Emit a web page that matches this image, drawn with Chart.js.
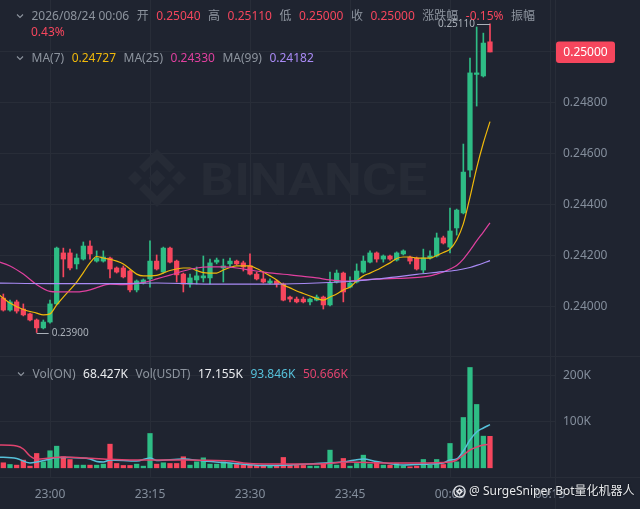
<!DOCTYPE html>
<html><head><meta charset="utf-8">
<script src="https://cdn.jsdelivr.net/npm/chart.js@4.4.1/dist/chart.umd.min.js"></script>
<style>
html,body{margin:0;padding:0;background:#1f2430;}
#wrap{position:relative;width:640px;height:509px;overflow:hidden;background:#1f2430;font-family:"Noto Sans","Noto Sans CJK SC",sans-serif;}
canvas{position:absolute;left:0;display:block;}
.row{position:absolute;left:16px;height:16px;line-height:16px;font-size:12px;display:flex;align-items:center;gap:7.5px;white-space:nowrap;color:#8d949e;}
.row svg{display:block;}
#wm{position:absolute;left:453px;top:483px;height:16px;line-height:16px;font-size:12px;color:#e6e8eb;display:flex;align-items:center;gap:3px;white-space:nowrap;text-shadow:0 0 2px rgba(0,0,0,0.6);}
</style></head><body><div id="wrap">
<canvas id="cP" width="640" height="357" style="top:0"></canvas>
<canvas id="cV" width="640" height="152" style="top:357px"></canvas>
<div class="row" id="row1" style="top:8px"></div>
<div class="row" id="row2" style="top:24px;left:31px"></div>
<div class="row" id="row3" style="top:50px"></div>
<div class="row" id="row4" style="top:366px;left:17px"></div>
<div id="wm"><svg width="13" height="13" viewBox="0 0 13 13"><circle cx="6.5" cy="6.5" r="5.6" fill="none" stroke="#e6e8eb" stroke-width="1.3"/><path d="M6.5 3 L10 6.5 L6.5 10 L3 6.5 Z" fill="#e6e8eb"/><path d="M6.5 5.3 L7.7 6.5 L6.5 7.7 L5.3 6.5 Z" fill="#1f2430"/></svg><span>@ SurgeSniper Bot量化机器人</span></div>
</div>
<script>
// ---------- data (1-minute candles, minute offset from 23:00) ----------
const firstMinute = -7; // first candle 22:53
const openP  = [0.24035,0.23988,0.24020,0.23992,0.23973,0.23949,0.23918,0.23941,0.24012,0.24212,0.24212,0.24169,0.24188,0.24239,0.24180,0.24180,0.24192,0.24153,0.24153,0.24141,0.24067,0.24094,0.24110,0.24180,0.24137,0.24231,0.24180,0.24129,0.24090,0.24106,0.24114,0.24114,0.24176,0.24153,0.24169,0.24180,0.24173,0.24161,0.24129,0.24110,0.24094,0.24102,0.24090,0.24039,0.24031,0.24031,0.24020,0.24027,0.24039,0.24008,0.24098,0.24133,0.24078,0.24098,0.24137,0.24176,0.24212,0.24188,0.24200,0.24184,0.24208,0.24196,0.24192,0.24145,0.24192,0.24200,0.24271,0.24235,0.24310,0.24369,0.24537,0.24912,0.24906,0.25040];
const highP  = [0.24051,0.24027,0.24027,0.24012,0.23976,0.23953,0.23949,0.24027,0.24235,0.24231,0.24227,0.24208,0.24255,0.24259,0.24220,0.24220,0.24196,0.24157,0.24161,0.24145,0.24106,0.24110,0.24259,0.24204,0.24235,0.24235,0.24184,0.24133,0.24129,0.24157,0.24200,0.24188,0.24192,0.24188,0.24192,0.24184,0.24180,0.24208,0.24137,0.24137,0.24110,0.24106,0.24094,0.24043,0.24039,0.24039,0.24035,0.24047,0.24043,0.24137,0.24145,0.24137,0.24118,0.24169,0.24200,0.24220,0.24216,0.24204,0.24204,0.24216,0.24224,0.24200,0.24196,0.24227,0.24220,0.24290,0.24278,0.24388,0.24384,0.24639,0.24976,0.25098,0.25074,0.25110];
const lowP   = [0.23984,0.23984,0.23976,0.23965,0.23945,0.23900,0.23914,0.23937,0.24008,0.24118,0.24145,0.24149,0.24184,0.24188,0.24176,0.24176,0.24114,0.24133,0.24114,0.24059,0.24059,0.24090,0.24078,0.24145,0.24133,0.24173,0.24098,0.24059,0.24078,0.24090,0.24098,0.24090,0.24169,0.24098,0.24157,0.24165,0.24141,0.24126,0.24106,0.24094,0.24090,0.24078,0.24024,0.24020,0.24016,0.24016,0.24008,0.24024,0.23992,0.24004,0.24094,0.24020,0.24075,0.24094,0.24133,0.24173,0.24176,0.24176,0.24184,0.24180,0.24204,0.24169,0.24145,0.24133,0.24188,0.24196,0.24247,0.24212,0.24282,0.24365,0.24510,0.24788,0.24902,0.25000];
const closeP = [0.23988,0.24020,0.23984,0.23969,0.23949,0.23918,0.23941,0.24012,0.24231,0.24188,0.24153,0.24192,0.24239,0.24208,0.24192,0.24196,0.24149,0.24137,0.24118,0.24067,0.24102,0.24106,0.24180,0.24149,0.24231,0.24176,0.24126,0.24090,0.24114,0.24122,0.24122,0.24173,0.24184,0.24161,0.24180,0.24169,0.24157,0.24129,0.24110,0.24098,0.24102,0.24090,0.24027,0.24031,0.24020,0.24020,0.24031,0.24039,0.24008,0.24094,0.24133,0.24059,0.24094,0.24141,0.24180,0.24212,0.24188,0.24200,0.24188,0.24212,0.24220,0.24180,0.24149,0.24192,0.24200,0.24271,0.24251,0.24298,0.24380,0.24529,0.24918,0.24918,0.25035,0.25000];
const volK   = [10.9,7.2,5.8,16.7,3.6,31.2,13.0,37.0,47.0,24.0,18.0,5.8,5.8,5.8,5.8,8.0,51.4,9.4,5.1,5.1,8.0,3.6,74.6,8.0,10.9,9.4,9.4,24.0,5.8,13.0,21.7,8.0,8.0,13.0,9.4,7.2,5.8,5.8,5.1,5.8,3.6,5.1,22.5,5.1,5.1,5.1,3.6,3.6,9.4,38.4,5.8,20.3,3.6,9.4,27.5,8.0,13.0,5.8,5.8,9.4,4.3,2.2,3.6,18.1,5.8,18.1,7.2,52.9,13.0,109.4,218.1,137.7,68.8,68.427];

// moving-average lines (minute offset, value)
const ma7Min = [-8,-6,-4,-2,-1,0,1,2,4,5,6,7,8,10,11,12,13,14,16,17,18,20,21,22,23,25,26,27,28,30,31,32,33,34,35,36,37,38,39,40,41,42,43,44,45,46,47,48,49,50,51,52,53,54,55,56,57,58,59,60,61,62,63,64,65,66];
const ma7    = [0.24055,0.24016,0.23990,0.23976,0.23969,0.23973,0.24008,0.24039,0.24098,0.24135,0.24173,0.24198,0.24192,0.24180,0.24169,0.24149,0.24129,0.24122,0.24124,0.24133,0.24143,0.24153,0.24153,0.24143,0.24135,0.24133,0.24145,0.24155,0.24161,0.24161,0.24151,0.24137,0.24122,0.24106,0.24086,0.24075,0.24063,0.24053,0.24043,0.24033,0.24027,0.24039,0.24051,0.24067,0.24078,0.24102,0.24122,0.24133,0.24145,0.24159,0.24173,0.24190,0.24196,0.24196,0.24192,0.24192,0.24192,0.24202,0.24214,0.24227,0.24263,0.24326,0.24431,0.24545,0.24643,0.24727];
const ma25Min = [-8,-6,-4,-2,0,1,4,6,7,9,11,13,15,16,18,20,22,24,26,28,30,32,34,36,38,40,42,44,46,48,50,52,54,56,57,58,59,60,61,62,63,64,65,66];
const ma25    = [0.24180,0.24161,0.24129,0.24088,0.24061,0.24059,0.24059,0.24067,0.24076,0.24090,0.24088,0.24092,0.24102,0.24110,0.24125,0.24141,0.24153,0.24157,0.24157,0.24153,0.24145,0.24137,0.24131,0.24126,0.24120,0.24114,0.24106,0.24102,0.24104,0.24108,0.24110,0.24112,0.24114,0.24118,0.24122,0.24129,0.24137,0.24149,0.24163,0.24188,0.24222,0.24259,0.24294,0.24330];
const ma99Min = [-8,0,10,16,25,34,40,46,49,52,55,58,61,63,64,66];
const ma99    = [0.24094,0.24092,0.24092,0.24094,0.24090,0.24090,0.24094,0.24102,0.24110,0.24118,0.24128,0.24136,0.24144,0.24155,0.24163,0.24182];
const volMaAMin = [-8,-5,-3,-2,0,1,3,6,7,8,9,13,15,16,20,23,27,32,36,40,44,47,49,53,57,59,60,61,62,63,64,65,66];
const volMaA    = [23.5,20.2,10.4,12.6,19.1,22.4,22.4,19.1,13.7,12.6,17.0,14.8,21.3,15.9,19.1,14.8,10.4,5.0,6.1,9.3,12.6,19.1,13.7,6.1,8.3,10.4,17.0,19.1,36.5,60.4,77.8,86.5,93.846];
const volMaBMin = [-8,-5,-4,-3,-2,0,2,5,8,12,20,27,29,32,40,45,50,55,60,61,62,63,64,65,66];
const volMaB    = [49.6,47.4,40.9,25.7,19.1,21.3,23.5,21.3,19.1,17.0,17.0,14.8,10.4,8.3,8.3,12.6,10.4,10.4,12.6,17.0,27.8,38.7,45.2,49.6,50.666];

const priceTicks = [0.240,0.242,0.244,0.246,0.248,0.250];
const volTicks = [100,200];
const tickMinutes = [0,15,30,45,60,75];
const tickLabels = ['23:00','23:15','23:30','23:45','00:00','00:15'];
const headerDate = '2026/08/24 00:06';
const changeText = '-0.15%';
const amplitudeText = '0.43%';
const volUsdtText = '17.155K';

// ---------- styles ----------
const GREEN='#2ebd85', RED='#f6465d', GRID='#282d38', TXT='#848e9c';
const MA7C='#f0b90b', MA25C='#e0409f', MA99C='#a98af5', VOLAC='#56c1da', VOLBC='#e0436e';
const FONT='"Noto Sans","Noto Sans CJK SC",sans-serif';
const X_MIN=-7.5, X_MAX=75.75;

const candleX = openP.map((_,i)=>firstMinute+i);
const candleColor = openP.map((o,i)=> closeP[i]>=o ? GREEN : RED);
const pts = (xs, ys) => xs.map((x,i)=>({x, y:ys[i]}));
const last = openP.length-1;

// ---------- header texts ----------
const chev = '<svg width="8" height="16" viewBox="0 0 8 16"><polyline points="1,6.5 4,9.5 7,6.5" fill="none" stroke="#8d949e" stroke-width="1.1"/></svg>';
function span(t,c){return '<span'+(c?' style="color:'+c+'"':'')+'>'+t+'</span>';}
document.getElementById('row1').innerHTML = chev + span(headerDate) + span('开') + span(openP[last].toFixed(5),RED) +
  span('高') + span(highP[last].toFixed(5),RED) + span('低') + span(lowP[last].toFixed(5),RED) +
  span('收') + span(closeP[last].toFixed(5),RED) + span('涨跌幅') + span(changeText,RED) + span('振幅');
document.getElementById('row2').innerHTML = span(amplitudeText,RED);
document.getElementById('row3').innerHTML = chev + span('MA(7)') + span(ma7[ma7.length-1].toFixed(5),MA7C) +
  span('MA(25)') + span(ma25[ma25.length-1].toFixed(5),MA25C) + span('MA(99)') + span(ma99[ma99.length-1].toFixed(5),MA99C);
document.getElementById('row4').innerHTML = chev + span('Vol(ON)') + span(volK[last].toFixed(3)+'K','#eaecef') +
  span('Vol(USDT)') + span(volUsdtText,'#eaecef') + span(volMaA[volMaA.length-1].toFixed(3)+'K',VOLAC) + span(volMaB[volMaB.length-1].toFixed(3)+'K',VOLBC);

// ---------- plugins ----------
const priceDecor = {
  id:'priceDecor',
  beforeDatasetsDraw(chart){
    const ctx = chart.ctx;
    ctx.save();
    ctx.fillStyle = '#262b36';
    const cx=157, cy=178;
    const dia=(x,y,h)=>{ctx.beginPath();ctx.moveTo(x,y-h);ctx.lineTo(x+h,y);ctx.lineTo(x,y+h);ctx.lineTo(x-h,y);ctx.closePath();ctx.fill();};
    dia(cx,cy,8.5); dia(cx-22,cy,7); dia(cx+22,cy,7);
    ctx.beginPath();ctx.moveTo(cx,cy-29);ctx.lineTo(cx+18,cy-11);ctx.lineTo(cx+12.5,cy-5.5);ctx.lineTo(cx,cy-18);ctx.lineTo(cx-12.5,cy-5.5);ctx.lineTo(cx-18,cy-11);ctx.closePath();ctx.fill();
    ctx.beginPath();ctx.moveTo(cx,cy+29);ctx.lineTo(cx+18,cy+11);ctx.lineTo(cx+12.5,cy+5.5);ctx.lineTo(cx,cy+18);ctx.lineTo(cx-12.5,cy+5.5);ctx.lineTo(cx-18,cy+11);ctx.closePath();ctx.fill();
    ctx.font = '700 45px Roboto';
    ctx.textBaseline='alphabetic';
    const w = ctx.measureText('BINANCE').width;
    ctx.translate(200,195); ctx.scale(227/w,1); ctx.fillText('BINANCE',0,0);
    ctx.restore();
  },
  afterDraw(chart){
    const ctx = chart.ctx, xs = chart.scales.x, ys = chart.scales.y;
    ctx.save();
    // pane separator and axis border
    ctx.fillStyle = GRID;
    ctx.fillRect(0, chart.height-1, chart.width, 1);
    ctx.fillRect(Math.round(chart.chartArea.right), 0, 1, chart.height);
    // highest / lowest markers
    const hi = Math.max(...highP), hiI = highP.indexOf(hi);
    const lo = Math.min(...lowP), loI = lowP.indexOf(lo);
    ctx.strokeStyle = '#aab0b8'; ctx.lineWidth = 1; ctx.fillStyle = '#aab0b8';
    ctx.font = '10px '+FONT; ctx.textBaseline = 'middle';
    let hx = xs.getPixelForValue(candleX[hiI]), hy = Math.round(ys.getPixelForValue(hi))+0.5;
    ctx.beginPath(); ctx.moveTo(hx-13,hy); ctx.lineTo(hx,hy); ctx.stroke();
    ctx.textAlign='right'; ctx.fillText(hi.toFixed(5), hx-15, hy);
    let lx = xs.getPixelForValue(candleX[loI]), ly = Math.round(ys.getPixelForValue(lo))+1.5;
    ctx.beginPath(); ctx.moveTo(lx,ly); ctx.lineTo(lx+12,ly); ctx.stroke();
    ctx.textAlign='left'; ctx.fillText(lo.toFixed(5), lx+15, ly);
    // current price tag
    const cp = closeP[last], cy = ys.getPixelForValue(cp);
    ctx.fillStyle = RED;
    ctx.beginPath(); ctx.roundRect(556, cy-10.5, 59, 21.5, 3); ctx.fill();
    ctx.fillStyle = '#ffffff'; ctx.font = '12px '+FONT; ctx.textAlign='center';
    ctx.fillText(cp.toFixed(5), 585.5, cy+0.5);
    ctx.restore();
  }
};
const volDecor = {
  id:'volDecor',
  afterDraw(chart){
    const ctx = chart.ctx;
    ctx.save();
    ctx.fillStyle = GRID;
    ctx.fillRect(0, Math.round(chart.chartArea.bottom), chart.width, 1);
    ctx.fillRect(Math.round(chart.chartArea.right), 0, 1, chart.height);
    ctx.restore();
  }
};

const noPad = s => { s.paddingTop=0; s.paddingBottom=0; s.paddingLeft=0; s.paddingRight=0; };
const commonX = (showTicks, h) => ({
  type:'linear', min:X_MIN, max:X_MAX, offset:false,
  afterBuildTicks: s => { s.ticks = tickMinutes.map(v=>({value:v})); },
  ticks:{display:showTicks, autoSkip:false, maxRotation:0, color:TXT, padding:10, font:{family:FONT,size:12},
         callback: v => tickLabels[tickMinutes.indexOf(v)]},
  grid:{color:GRID, drawTicks:false, offset:false}, border:{display:false},
  afterFit: s => { s.height = h; noPad(s); }
});

Chart.defaults.font.family = FONT;

new Chart(document.getElementById('cP'), {
  type:'bar',
  data:{ datasets:[
    {type:'line', data:pts(ma99Min,ma99), borderColor:MA99C, borderWidth:1.2, pointRadius:0, cubicInterpolationMode:'monotone', order:0},
    {type:'line', data:pts(ma25Min,ma25), borderColor:MA25C, borderWidth:1.2, pointRadius:0, cubicInterpolationMode:'monotone', order:0},
    {type:'line', data:pts(ma7Min,ma7), borderColor:MA7C, borderWidth:1.2, pointRadius:0, cubicInterpolationMode:'monotone', order:0},
    {type:'bar', data:candleX.map((x,i)=>({x, y:[lowP[i],highP[i]]})), backgroundColor:candleColor, barThickness:1, grouped:false, order:2},
    {type:'bar', data:candleX.map((x,i)=>({x, y:[openP[i],closeP[i]]})), backgroundColor:candleColor, barThickness:4.6, grouped:false, minBarLength:1, order:1}
  ]},
  options:{
    responsive:false, animation:false, events:[],
    layout:{padding:0},
    plugins:{legend:{display:false}, tooltip:{enabled:false}},
    scales:{
      x: commonX(false, 0),
      y:{type:'linear', position:'right', min:0.238039, max:0.252039,
         afterBuildTicks: s => { s.ticks = priceTicks.map(v=>({value:v})); },
         ticks:{color:TXT, padding:8, font:{family:FONT,size:12}, callback: v => Number(v).toFixed(5)},
         grid:{color:GRID, drawTicks:false}, border:{display:false},
         afterFit: s => { s.width = 85; noPad(s); }}
    }
  },
  plugins:[priceDecor]
});

new Chart(document.getElementById('cV'), {
  type:'bar',
  data:{ datasets:[
    {type:'line', data:pts(volMaBMin,volMaB), borderColor:VOLBC, borderWidth:1.5, pointRadius:0, cubicInterpolationMode:'monotone', order:0},
    {type:'line', data:pts(volMaAMin,volMaA), borderColor:VOLAC, borderWidth:1.5, pointRadius:0, cubicInterpolationMode:'monotone', order:0},
    {type:'bar', data:candleX.map((x,i)=>({x, y:volK[i]})), backgroundColor:candleColor, barThickness:4.6, order:1}
  ]},
  options:{
    responsive:false, animation:false, events:[],
    layout:{padding:0},
    plugins:{legend:{display:false}, tooltip:{enabled:false}},
    scales:{
      x: commonX(true, 32),
      y:{type:'linear', position:'right', min:-20, max:240.9,
         afterBuildTicks: s => { s.ticks = volTicks.map(v=>({value:v})); },
         ticks:{color:TXT, padding:8, font:{family:FONT,size:12}, callback: v => v+'K'},
         grid:{color:GRID, drawTicks:false}, border:{display:false},
         afterFit: s => { s.width = 85; noPad(s); }}
    }
  },
  plugins:[volDecor]
});
</script>
</body></html>
